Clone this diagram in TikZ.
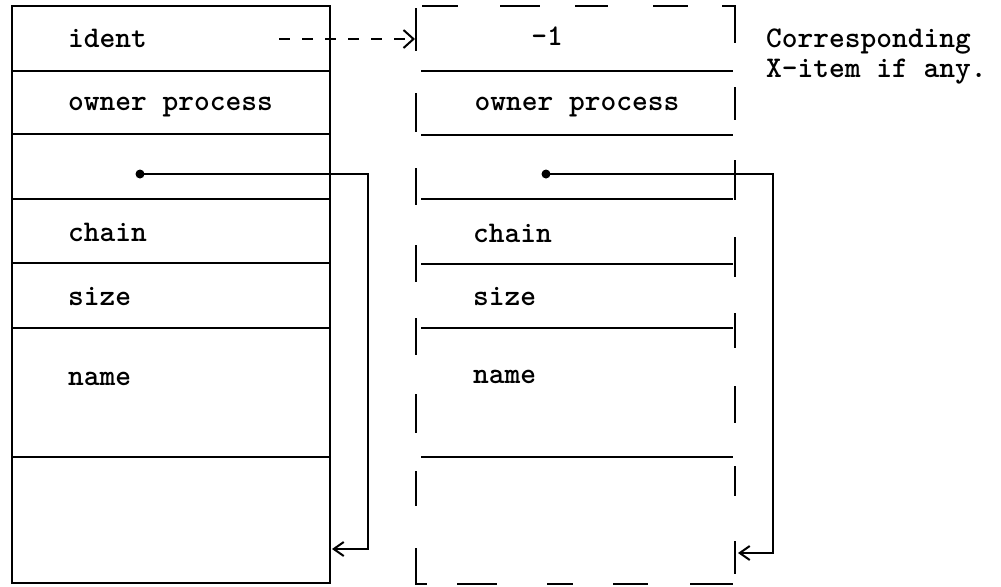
\documentclass[tikz,border=0pt]{standalone}
\usetikzlibrary{arrows.meta}
\begin{document}
\begin{tikzpicture}[x=0.5pt,y=-0.5pt,line width=1pt,
  lbl/.style={anchor=base west,inner sep=0pt,font=\ttfamily\bfseries\fontsize{15}{18}\selectfont},
  clbl/.style={anchor=base,inner sep=0pt,font=\ttfamily\bfseries\fontsize{15}{18}\selectfont},
  ptrdot/.style={circle,fill=black,inner sep=0pt,minimum size=4.5pt},
  ptr/.style={-{Straight Barb[length=5pt,width=7pt,line width=1pt]}},
  xlink/.style={dash pattern=on 5.5pt off 6pt,-{Straight Barb[length=5pt,width=9pt,line width=1pt]}},
  sep/.style={line width=1pt}]
\useasboundingbox (0,0) rectangle (1001,586);

% ---------- left box ----------
\draw (12,6) rectangle (330,583);
\foreach \yy in {71,134,199,263,328,457} \draw[sep] (12,\yy) -- (330,\yy);

\node[lbl] (lident) at (67,47) {ident};
\node[lbl] (lowner) at (67,110) {owner process};
\node[lbl] (lchain) at (67,241) {chain};
\node[lbl] (lsize) at (67,305) {size};
\node[lbl] (lname) at (67,385) {name};

% ---------- right box (dashed outline, solid separators) ----------
% top edge
\draw (422,6) -- (458,6);
\draw (500,6) -- (540,6);
\draw (575,6) -- (608,6);
\draw (653,6) -- (688,6);
\draw (722,6) -- (735,6) -- (735,43);
% left edge
\foreach \a/\b in {8/51,93/132,168/205,245/282,318/355,394/433,471/506}
  \draw (416,\a) -- (416,\b);
\draw (416,548) -- (416,584) -- (427,584);
% right edge
\foreach \a/\b in {87/120,160/200,237/277,313/348,386/423,466/496,541/574}
  \draw (735,\a) -- (735,\b);
% bottom edge
\draw (457,584) -- (497,584);
\draw (547,584) -- (573,584);
\draw (613,584) -- (648,584);
\draw (690,584) -- (733,584);
% separators
\foreach \yy in {71,135,199,264,328,457} \draw[sep] (421,\yy) -- (733,\yy);

\node[clbl] (rident) at (547,45) {-1};
\node[clbl] (rowner) at (577,110) {owner process};
\node[lbl] (rchain) at (472,242) {chain};
\node[lbl] (rsize) at (472,305) {size};
\node[lbl] (rname) at (472,383) {name};

\node[lbl] (note1) at (765,47) {Corresponding};
\node[lbl] (note2) at (765,77) {X-item if any.};

% ---------- connectors ----------
\coordinate (xsrc) at (279,39);
\coordinate (xtgt) at (415,39);
\draw[xlink] (xsrc) -- (xtgt);

\node[ptrdot] (ldot) at (140,174) {};
\coordinate (lbend) at (368,174);
\coordinate (lret) at (332,549);
\draw[ptr] (ldot.center) -- (lbend) |- (lret);

\node[ptrdot] (rdot) at (546,174) {};
\coordinate (rbend) at (773,174);
\coordinate (rret) at (738,553);
\draw[ptr] (rdot.center) -- (rbend) |- (rret);
\end{tikzpicture}
\end{document}
